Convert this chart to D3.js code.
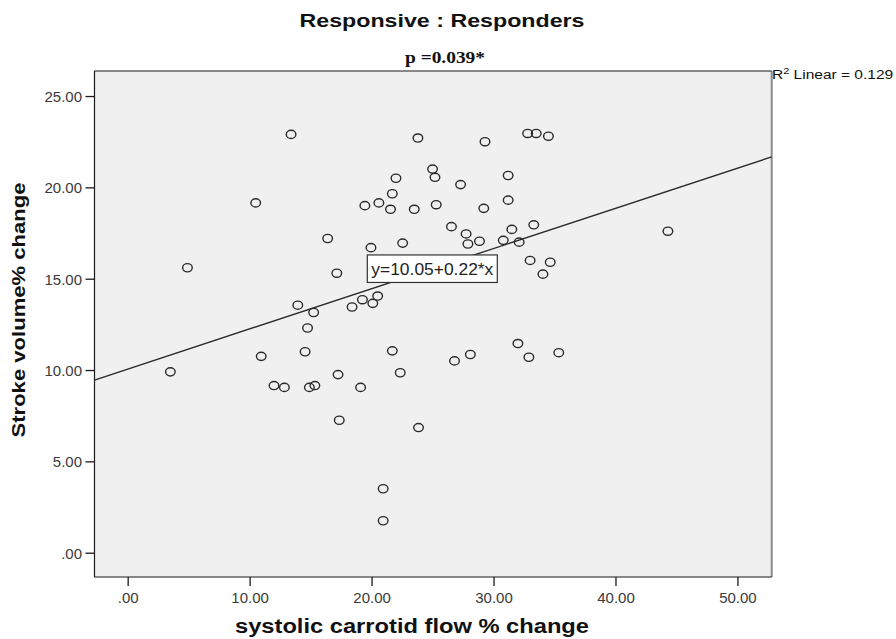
<!DOCTYPE html>
<html>
<head>
<meta charset="utf-8">
<script src="https://cdn.jsdelivr.net/npm/d3@7"></script>
<style>
  body { margin: 0; background: #fff; }
  svg { display: block; }
</style>
</head>
<body>
<svg id="chart" width="896" height="639"></svg>
<script>
// ---- data ----
const carotidChange = [13.4, 23.8, 29.3, 32.8, 33.5, 34.5, 25.0, 25.2, 22.0, 31.2, 27.3, 21.7, 10.5, 19.45, 20.6, 21.55, 23.5, 25.3, 29.2, 31.2, 16.4, 26.55, 27.75, 27.9, 28.85, 31.5, 33.3, 30.8, 32.1, 19.95, 22.55, 17.15, 33.0, 34.65, 34.05, 13.95, 15.25, 19.25, 18.4, 20.1, 20.5, 14.75, 10.95, 14.55, 21.7, 26.8, 28.1, 32.0, 32.9, 35.35, 12.0, 12.85, 14.9, 15.35, 17.25, 19.1, 22.35, 17.35, 23.85, 20.95, 20.95, 4.9, 3.5, 44.3];
const strokeVolumeChange = [22.9, 22.7, 22.5, 22.95, 22.95, 22.8, 21.0, 20.55, 20.5, 20.65, 20.15, 19.65, 19.15, 19.0, 19.15, 18.8, 18.8, 19.05, 18.85, 19.3, 17.2, 17.85, 17.45, 16.9, 17.05, 17.7, 17.95, 17.1, 17.0, 16.7, 16.95, 15.3, 16.0, 15.9, 15.25, 13.55, 13.15, 13.85, 13.45, 13.65, 14.05, 12.3, 10.75, 11.0, 11.05, 10.5, 10.85, 11.45, 10.7, 10.95, 9.15, 9.05, 9.05, 9.15, 9.75, 9.05, 9.85, 7.25, 6.85, 3.5, 1.75, 15.6, 9.9, 17.6];
const xTicks = [0, 10, 20, 30, 40, 50];
const yTicks = [0, 5, 10, 15, 20, 25];
const fitIntercept = 10.05;
const fitSlope = 0.22;
const fitLabel = "y=10.05+0.22*x";
const fitLabelAnchor = [19.65, 16.3];
const chartTitle = "Responsive : Responders";
const chartSubtitle = "p =0.039*";
const r2Value = "0.129";
const xTitle = "systolic carrotid flow % change";
const yTitle = "Stroke volume% change";

// ---- layout ----
const svg = d3.select("#chart");
const plot = { left: 94.5, right: 771.7, top: 71, bottom: 577 };
const x = d3.scaleLinear().domain([-2.72, 52.81]).range([plot.left, plot.right]);
const y = d3.scaleLinear().domain([-1.33, 26.37]).range([plot.bottom, plot.top]);
const fmt = d => d === 0 ? ".00" : d.toFixed(2);

// plot background
svg.append("rect")
  .attr("x", plot.left).attr("y", plot.top)
  .attr("width", plot.right - plot.left).attr("height", plot.bottom - plot.top)
  .attr("fill", "#f0f0f0");

// right border (gray)
svg.append("line")
  .attr("x1", plot.right).attr("x2", plot.right)
  .attr("y1", plot.top).attr("y2", plot.bottom)
  .attr("stroke", "#8a8a8a").attr("stroke-width", 2);
// top, left, bottom borders
svg.append("path")
  .attr("d", `M${plot.right},${plot.top}H${plot.left}V${plot.bottom}H${plot.right}`)
  .attr("fill", "none").attr("stroke", "#1a1a1a").attr("stroke-width", 1.2);

// axes
const xAxis = d3.axisBottom(x).tickValues(xTicks).tickFormat(fmt).tickSize(9).tickSizeOuter(0);
const yAxis = d3.axisLeft(y).tickValues(yTicks).tickFormat(fmt).tickSize(9).tickSizeOuter(0);

const gx = svg.append("g").attr("transform", `translate(0,${plot.bottom})`).call(xAxis);
const gy = svg.append("g").attr("transform", `translate(${plot.left},0)`).call(yAxis);
[gx, gy].forEach(g => {
  g.select(".domain").remove();
  g.selectAll(".tick line").attr("stroke", "#1a1a1a").attr("stroke-width", 1.3);
  g.selectAll(".tick text")
    .attr("fill", "#3a3a3a")
    .style("font-family", "'Liberation Sans', Arial, sans-serif")
    .style("font-size", "15px");
});
gx.selectAll(".tick text").attr("y", 15).attr("dy", "0.71em");
gy.selectAll(".tick text").attr("x", -12.5).attr("dy", "0.36em");

// regression line
const xd = x.domain();
svg.append("line")
  .attr("x1", x(xd[0])).attr("y1", y(fitIntercept + fitSlope * xd[0]))
  .attr("x2", x(xd[1])).attr("y2", y(fitIntercept + fitSlope * xd[1]))
  .attr("stroke", "#2a2a2a").attr("stroke-width", 1.4);

// points
svg.append("g").selectAll("ellipse")
  .data(carotidChange.map((v, i) => [v, strokeVolumeChange[i]]))
  .join("ellipse")
  .attr("cx", d => x(d[0])).attr("cy", d => y(d[1]))
  .attr("rx", 4.8).attr("ry", 4.1)
  .attr("fill", "none").attr("stroke", "#2a2a2a").attr("stroke-width", 1.4);

// fit label box
const bx = x(fitLabelAnchor[0]), by = y(fitLabelAnchor[1]);
svg.append("rect")
  .attr("x", bx).attr("y", by).attr("width", 130).attr("height", 27.5)
  .attr("fill", "#fff").attr("stroke", "#333").attr("stroke-width", 1.2);
svg.append("text")
  .attr("x", bx + 4).attr("y", by + 20)
  .attr("textLength", 122).attr("lengthAdjust", "spacingAndGlyphs")
  .style("font-family", "'Liberation Sans', Arial, sans-serif")
  .style("font-size", "16px").attr("fill", "#222")
  .text(fitLabel);

// titles
svg.append("text")
  .attr("x", 442).attr("y", 27).attr("text-anchor", "middle")
  .attr("textLength", 285).attr("lengthAdjust", "spacingAndGlyphs")
  .style("font-family", "'Liberation Sans', Arial, sans-serif")
  .style("font-size", "18px").style("font-weight", "bold").attr("fill", "#111")
  .text(chartTitle);

svg.append("text")
  .attr("x", 445).attr("y", 63).attr("text-anchor", "middle")
  .attr("textLength", 80).attr("lengthAdjust", "spacingAndGlyphs")
  .style("font-family", "'Liberation Serif', 'Times New Roman', serif")
  .style("font-size", "17px").style("font-weight", "bold").attr("fill", "#111")
  .text(chartSubtitle);

const r2 = svg.append("text")
  .attr("transform", "translate(772,79) scale(1.15,1)")
  .style("font-family", "'Liberation Sans', Arial, sans-serif")
  .style("font-size", "13.5px").attr("fill", "#111");
r2.append("tspan").text("R");
r2.append("tspan").attr("dy", -5).style("font-size", "9.5px").text("2");
r2.append("tspan").attr("dy", 5).text(" Linear = " + r2Value);

svg.append("text")
  .attr("x", 412).attr("y", 633).attr("text-anchor", "middle")
  .attr("textLength", 354).attr("lengthAdjust", "spacingAndGlyphs")
  .style("font-family", "'Liberation Sans', Arial, sans-serif")
  .style("font-size", "19.5px").style("font-weight", "bold").attr("fill", "#111")
  .text(xTitle);

svg.append("text")
  .attr("transform", "translate(24.5,310) rotate(-90)")
  .attr("text-anchor", "middle")
  .attr("textLength", 255).attr("lengthAdjust", "spacingAndGlyphs")
  .style("font-family", "'Liberation Sans', Arial, sans-serif")
  .style("font-size", "19px").style("font-weight", "bold").attr("fill", "#111")
  .text(yTitle);
</script>
</body>
</html>
